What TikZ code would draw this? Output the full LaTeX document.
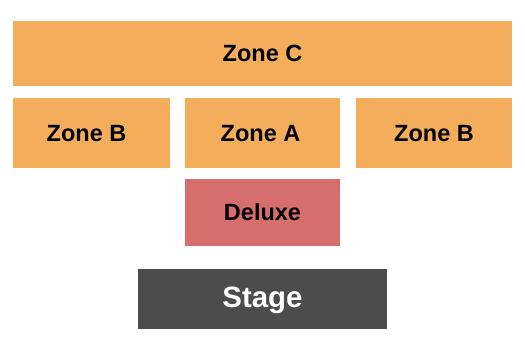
\documentclass[tikz,border=0pt]{standalone}
\usepackage{fontspec}
\setmainfont{Liberation Sans}
\usetikzlibrary{positioning}

\definecolor{zoneorange}{HTML}{F4AD5B}
\definecolor{deluxered}{HTML}{D76E6E}
\definecolor{stagegrey}{HTML}{4C4C4C}

\tikzset{
	seatblock/.style={rectangle, inner sep=0pt, font=\fontsize{23.5}{26}\selectfont\bfseries},
	zonebox/.style={seatblock, fill=zoneorange, minimum height=70.5pt},
}

\begin{document}
\begin{tikzpicture}[x=1pt,y=-1pt]
		% Keep the page the size of the reference
		\useasboundingbox (0,0) rectangle (525,350);
		
		% Back row
		\node[zonebox, minimum width=499pt, minimum height=65pt] (zoneC) at (262.5,53.5) {Zone C};
		
		% Middle row (labels sit a little left of centre)
		\node[zonebox, minimum width=157pt] (zoneBleft) at (91.5,133.25) {Zone B\kern10pt};
		\node[zonebox, minimum width=155pt] (zoneA) at (262.5,133.25) {Zone A\kern4pt};
		\node[zonebox, minimum width=156pt] (zoneBright) at (434,133.25) {Zone B};
		
		% Front section
		\node[seatblock, fill=deluxered, minimum width=155pt, minimum height=66.5pt] (deluxe) at (262.5,212.25) {Deluxe};
		
		% Stage
		\node[seatblock, fill=stagegrey, text=white, minimum width=249pt, minimum height=59.5pt,
			text depth=2.5pt, font=\fontsize{29.4}{32}\selectfont\bfseries] (stage) at (262.5,298.75) {Stage};
	\end{tikzpicture}
\end{document}
